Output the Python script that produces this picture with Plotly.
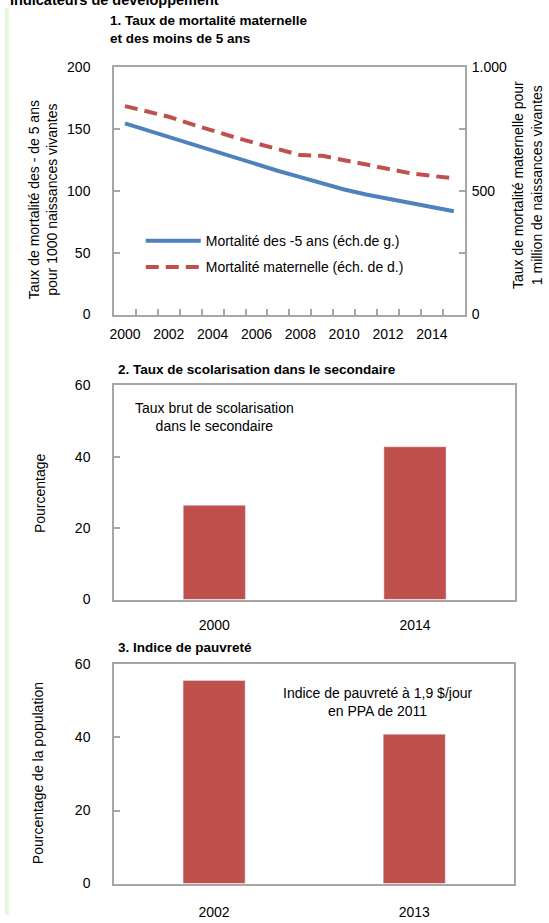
import plotly.graph_objects as go

# chart 1: mortality (left axis: under-5, right axis: maternal)
years = list(range(2000, 2016))
u5_mortality = [154.5, 149, 143, 137.5, 132, 126.5, 121, 116, 111, 106, 101, 97, 93.5, 90, 86.5, 83.5]
maternal_mortality = [842, 820, 799, 770, 742, 716, 691, 667, 644, 641, 624, 605, 588, 571, 560, 551]
year_labels = [2000, 2002, 2004, 2006, 2008, 2010, 2012, 2014]

# chart 2: secondary school enrolment
school_years = ["2000", "2014"]
school_rate = [26.4, 42.8]

# chart 3: poverty headcount
poverty_years = ["2002", "2013"]
poverty_rate = [55.6, 40.9]

W, H = 549, 923
FONT = "Liberation Sans, Arial, sans-serif"
BLUE = "#4F81BD"
RED = "#C0504D"
FRAME = "#A6A6A6"


def px(p):
    return p / W


def py(p):
    return 1 - p / H


fig = go.Figure()

fig.add_trace(go.Scatter(
    x=years, y=u5_mortality, mode="lines", name="Mortalité des -5 ans (éch.de g.)",
    line=dict(color=BLUE, width=4), xaxis="x", yaxis="y", legendgroup="a"
))
fig.add_trace(go.Scatter(
    x=years, y=maternal_mortality, mode="lines", name="Mortalité maternelle (éch. de d.)",
    line=dict(color=RED, width=4, dash="13px,7px"), xaxis="x", yaxis="y2", legendgroup="b"
))
fig.add_trace(go.Bar(
    x=school_years, y=school_rate, marker=dict(color=RED), width=0.31,
    showlegend=False, xaxis="x2", yaxis="y3"
))
fig.add_trace(go.Bar(
    x=poverty_years, y=poverty_rate, marker=dict(color=RED), width=0.31,
    showlegend=False, xaxis="x3", yaxis="y4"
))

tick_font = dict(family=FONT, size=14, color="#000")
frame = dict(showline=True, linecolor=FRAME, linewidth=1.5, mirror=True, showgrid=False, zeroline=False)

fig.update_layout(
    width=W, height=H,
    margin=dict(l=0, r=0, t=0, b=0),
    paper_bgcolor="white", plot_bgcolor="white",
    font=dict(family=FONT, size=14, color="#000"),
    title=dict(
        text="<b>Indicateurs de développement</b>", font=dict(family=FONT, size=14.5, color="#000"),
        xref="container", yref="container", x=px(10), xanchor="left", y=1.0, yanchor="middle"
    ),
    showlegend=True,
    legend=dict(
        x=px(137), y=py(221), xanchor="left", yanchor="top",
        bgcolor="rgba(0,0,0,0)", font=dict(family=FONT, size=14),
        itemwidth=55, tracegroupgap=5
    ),
    xaxis=dict(
        domain=[px(110), px(464)], anchor="y", range=[1999.5, 2015.5],
        tickvals=year_labels, ticks="", tickfont=tick_font, ticklabelstandoff=6,
        minor=dict(tickvals=[y + 0.5 for y in years[:-1]], ticks="inside", ticklen=6,
                   tickcolor=FRAME, tickwidth=1.5),
        **frame
    ),
    yaxis=dict(
        domain=[py(312), py(60)], anchor="x", range=[0, 200], dtick=50,
        ticks="inside", ticklen=6, tickcolor=FRAME, tickwidth=1.5,
        ticklabelstandoff=19, tickfont=tick_font,
        showline=True, linecolor=FRAME, linewidth=1.5, mirror="ticks",
        showgrid=False, zeroline=False
    ),
    yaxis2=dict(
        overlaying="y", anchor="x", side="right", range=[0, 1000],
        tickvals=[0, 500, 1000], ticktext=["0", "500", "1.000"], ticks="",
        ticklabelstandoff=6, tickfont=tick_font,
        showline=False, showgrid=False, zeroline=False
    ),
    xaxis2=dict(
        domain=[px(110), px(515)], anchor="y3", type="category", ticks="",
        tickfont=tick_font, ticklabelstandoff=12, **frame
    ),
    yaxis3=dict(
        domain=[py(602), py(384)], anchor="x2", range=[0, 60], dtick=20,
        ticks="inside", ticklen=6, tickcolor=FRAME, tickwidth=1.5,
        ticklabelstandoff=19, tickfont=tick_font, **frame
    ),
    xaxis3=dict(
        domain=[px(110), px(514)], anchor="y4", type="category", ticks="",
        tickfont=tick_font, ticklabelstandoff=15, **frame
    ),
    yaxis4=dict(
        domain=[py(891), py(668)], anchor="x3", range=[0, 60], dtick=20,
        ticks="inside", ticklen=6, tickcolor=FRAME, tickwidth=1.5,
        ticklabelstandoff=19, tickfont=tick_font, **frame
    ),
)

# light green strip on the left edge
fig.add_shape(type="rect", xref="paper", yref="paper", x0=0, x1=px(4), y0=0, y1=1,
              fillcolor="#E6F8DA", line=dict(width=0), layer="below")


def note(text, x, y, size=14, bold=False, anchor="left", angle=0, align="center"):
    if bold:
        text = "<b>" + text + "</b>"
    fig.add_annotation(
        text=text, x=px(x), y=py(y), xref="paper", yref="paper",
        xanchor=anchor, yanchor="middle", showarrow=False, textangle=angle,
        font=dict(family=FONT, size=size, color="#000"), align=align
    )


# panel headings
note("1. Taux de mortalité maternelle<br>et des moins de 5 ans", 104, 22, size=13.5, bold=True, align="left")
note("2. Taux de scolarisation dans le secondaire", 112, 368, size=13.5, bold=True)
note("3. Indice de pauvreté", 112, 651, size=13.5, bold=True)

# axis titles
note("Taux de mortalité des - de 5 ans<br>pour 1000 naissances vivantes", 38, 195, anchor="center", angle=-90)
note("Taux de mortalité maternelle pour<br>1 million de naissances vivantes", 527, 180, anchor="center", angle=-90)
note("Pourcentage", 36, 494, anchor="center", angle=-90)
note("Pourcentage de la population", 34, 779, anchor="center", angle=-90)

# in-panel labels
note("Taux brut de scolarisation<br>dans le secondaire", 211, 416, anchor="center")
note("Indice de pauvreté à 1,9 $/jour<br>en PPA de 2011", 376, 706, anchor="center")

fig.write_html(
    "out.html",
    config={"displayModeBar": False},
    post_script="document.body.style.margin='0px';document.body.style.overflow='hidden';"
)
